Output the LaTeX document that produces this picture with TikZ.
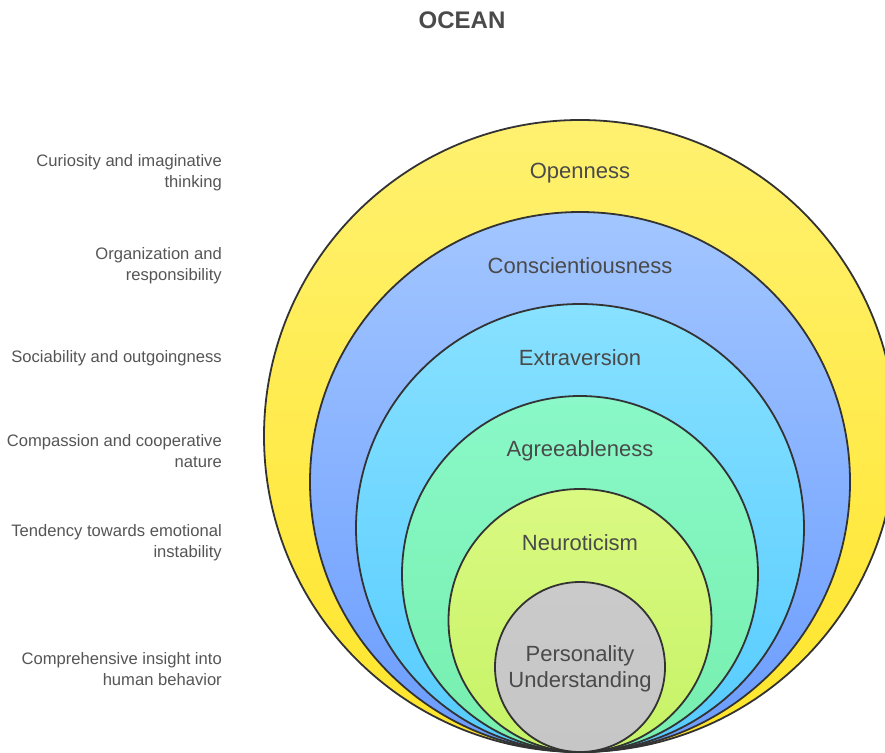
\documentclass[tikz,border=0pt]{standalone}
\usepackage{fontspec}
\setmainfont{Liberation Sans}
\usetikzlibrary{positioning, calc}

\definecolor{txtdark}{HTML}{4A4A4A}
\definecolor{txtside}{HTML}{555555}
\definecolor{ringline}{HTML}{333333}

\begin{document}
\begin{tikzpicture}[
  x=1pt, y=-1pt,
  ring/.style={draw=ringline, line width=1.8pt},
  ringlabel/.style={font=\fontsize{22}{26}\selectfont, text=txtdark, align=center, inner sep=0pt},
  sidelabel/.style={font=\fontsize{16.6}{21}\selectfont, text=txtside, align=right, anchor=east, inner sep=0pt},
]
% ---------------- canvas ----------------
\useasboundingbox (0,0) rectangle (885,752);
\clip (0,0) rectangle (885,752);

\node[font=\bfseries\fontsize{24}{28}\selectfont, text=txtdark] (title) at (462,20) {OCEAN};

% =====================================================================
% nested rings, all touching at the bottom point (580,752)
% =====================================================================
\coordinate (base) at (580,752);
\foreach \r/\ctop/\cbot in {316/FFF170/FFE52A,
                            270/A2C6FF/6A9CFF,
                            224/88E1FF/55CBFF,
                            178/8AF8C8/76EFAE,
                            131.5/DAF982/C6F366,
                            85/CACACA/C6C6C6} {
  \definecolor{ringtop}{HTML}{\ctop}
  \definecolor{ringbot}{HTML}{\cbot}
  \path[ring, top color=ringtop, bottom color=ringbot]
    ($(base)+(0,-\r)$) circle (\r);
}

% =====================================================================
% ring labels
% =====================================================================
\node[ringlabel] (openness) at (580,173) {Openness};
\node[ringlabel] (consc)    at (580,266) {Conscientiousness};
\node[ringlabel] (extra)    at (580,358) {Extraversion};
\node[ringlabel] (agree)    at (580,451) {Agreeableness};
\node[ringlabel] (neuro)    at (580,543) {Neuroticism};
\node[ringlabel] (core)     at (580,669) {Personality\\Understanding};

% =====================================================================
% side descriptions (right aligned)
% =====================================================================
\node[sidelabel] (dOpen)  at (222,173) {Curiosity and imaginative\\thinking};
\node[sidelabel] (dConsc) at (222,266) {Organization and\\responsibility};
\node[sidelabel] (dExtra) at (222,358) {Sociability and outgoingness};
\node[sidelabel] (dAgree) at (222,451) {Compassion and cooperative\\nature};
\node[sidelabel] (dNeuro) at (222,543) {Tendency towards emotional\\instability};
\node[sidelabel] (dCore)  at (222,669) {Comprehensive insight into\\human behavior};

\end{tikzpicture}
\end{document}
